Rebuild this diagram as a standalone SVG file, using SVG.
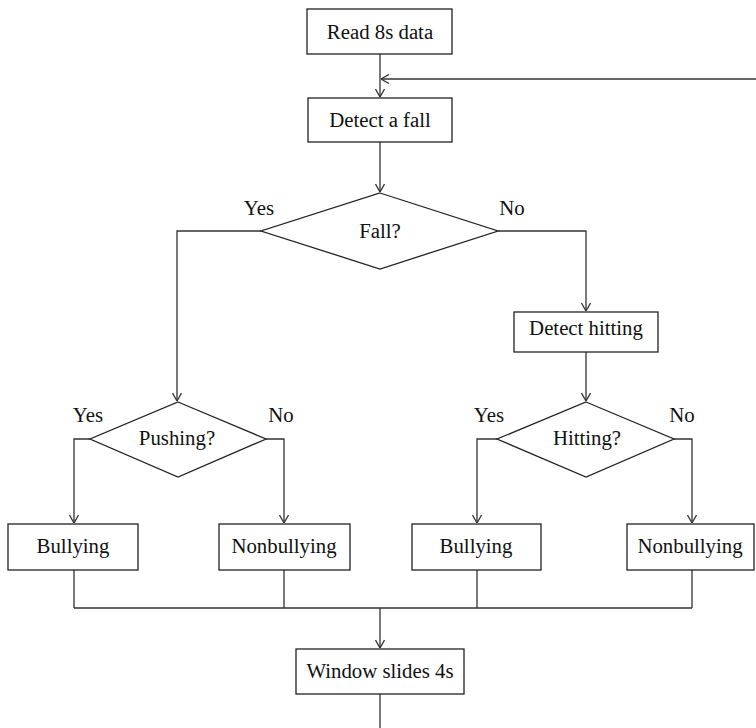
<svg xmlns="http://www.w3.org/2000/svg" width="756" height="728" viewBox="0 0 756 728">
<style>
.box{fill:#fff;stroke:#222;stroke-width:1.3}
.ln{fill:none;stroke:#333;stroke-width:1.3}
.t{font-family:"Liberation Serif","Times New Roman",serif;font-size:20.8px;fill:#111;text-anchor:middle}
</style>
<defs>
<marker id="ah" viewBox="0 0 10 10" refX="10" refY="5" markerWidth="10" markerHeight="10" markerUnits="userSpaceOnUse" orient="auto">
<path d="M2,0.5 L10,5 L2,9.5" fill="none" stroke="#333" stroke-width="1.3"/>
</marker>
</defs>
<rect width="756" height="728" fill="#fff"/>
<g id="connectors">
<path class="ln" d="M380,54 V97" marker-end="url(#ah)"/>
<path class="ln" d="M756,79 H381" marker-end="url(#ah)"/>
<path class="ln" d="M380,142 V192" marker-end="url(#ah)"/>
<path class="ln" d="M261,231 H177 V401" marker-end="url(#ah)"/>
<path class="ln" d="M498,231 H586 V311" marker-end="url(#ah)"/>
<path class="ln" d="M586,352 V401" marker-end="url(#ah)"/>
<path class="ln" d="M90,439 H74 V523" marker-end="url(#ah)"/>
<path class="ln" d="M266,439 H284 V523" marker-end="url(#ah)"/>
<path class="ln" d="M497,439 H477 V523" marker-end="url(#ah)"/>
<path class="ln" d="M674,439 H692 V523" marker-end="url(#ah)"/>
<path class="ln" d="M74,570 V608 M284,570 V608 M477,570 V608 M692,570 V608 M74,608 H692"/>
<path class="ln" d="M380,608 V648" marker-end="url(#ah)"/>
<path class="ln" d="M380,694 V728"/>
<text class="t" x="259" y="215">Yes</text>
<text class="t" x="512" y="215">No</text>
<text class="t" x="88" y="422">Yes</text>
<text class="t" x="281" y="422">No</text>
<text class="t" x="489" y="422">Yes</text>
<text class="t" x="682" y="422">No</text>
</g>
<g id="read"><rect class="box" x="307" y="9" width="145" height="45"/><text class="t" x="380" y="39">Read 8s data</text></g>
<g id="detectfall"><rect class="box" x="308" y="98" width="144" height="44"/><text class="t" x="380" y="127">Detect a fall</text></g>
<g id="fall"><polygon class="box" points="380,193 498,231 380,269 261,231"/><text class="t" x="380" y="238">Fall?</text></g>
<g id="detecthitting"><rect class="box" x="514" y="312" width="144" height="40"/><text class="t" x="586" y="335">Detect hitting</text></g>
<g id="pushing"><polygon class="box" points="178,402 266,439 178,477 90,439"/><text class="t" x="177" y="445">Pushing?</text></g>
<g id="hitting"><polygon class="box" points="586,402 674,439 586,477 497,439"/><text class="t" x="587" y="445">Hitting?</text></g>
<g id="bully1"><rect class="box" x="8" y="524" width="130" height="46"/><text class="t" x="73" y="553">Bullying</text></g>
<g id="nonbully1"><rect class="box" x="219" y="524" width="131" height="46"/><text class="t" x="284" y="553">Nonbullying</text></g>
<g id="bully2"><rect class="box" x="412" y="524" width="129" height="46"/><text class="t" x="476" y="553">Bullying</text></g>
<g id="nonbully2"><rect class="box" x="627" y="524" width="127" height="46"/><text class="t" x="690" y="553">Nonbullying</text></g>
<g id="window"><rect class="box" x="296" y="649" width="168" height="45"/><text class="t" x="380" y="678">Window slides 4s</text></g>
</svg>
